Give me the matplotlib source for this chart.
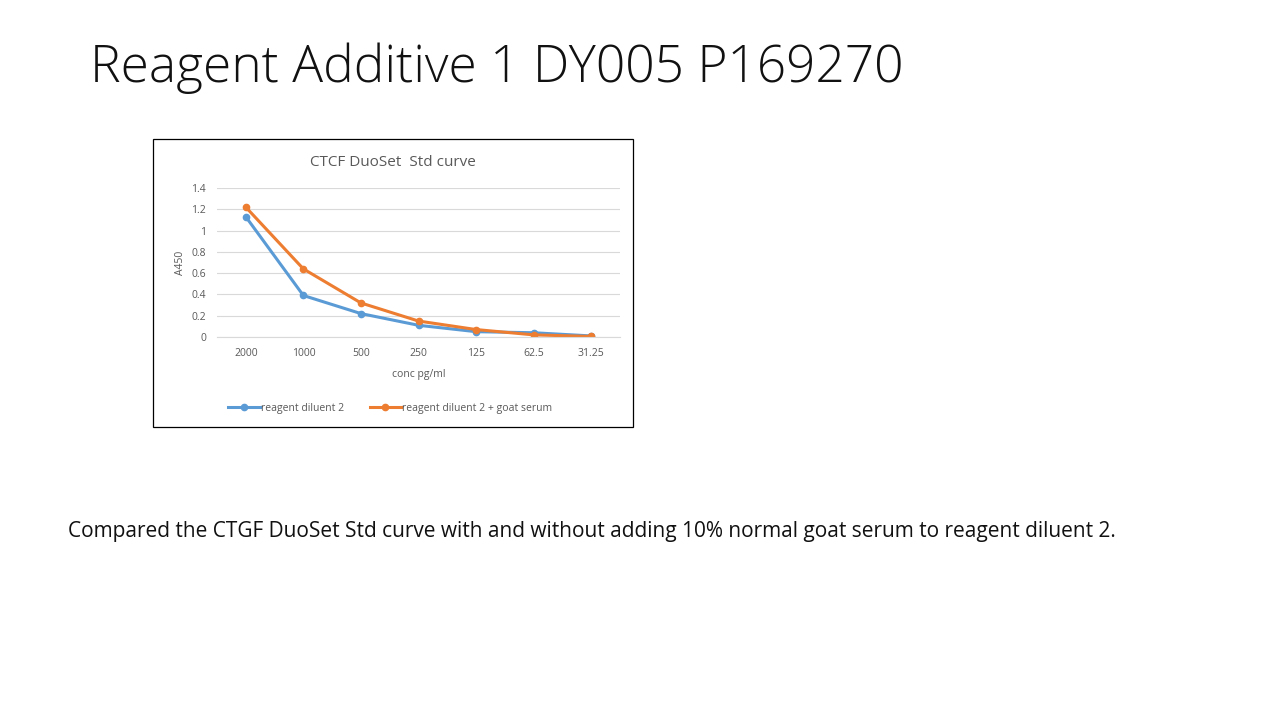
import matplotlib
matplotlib.use("Agg")
import matplotlib.pyplot as plt
from matplotlib.patches import Rectangle

plt.rcParams["font.family"] = ["Open Sans", "DejaVu Sans"]

conc_labels = ["2000", "1000", "500", "250", "125", "62.5", "31.25"]
diluent2 = [1.13, 0.39, 0.22, 0.11, 0.05, 0.04, 0.01]
diluent2_goat = [1.22, 0.64, 0.32, 0.15, 0.07, 0.02, 0.005]

W, H = 1280, 720
fig = plt.figure(figsize=(12.8, 7.2), dpi=100)
fig.patch.set_facecolor("white")

fig.text(90 / W, 1 - 68 / H, "Reagent Additive 1 DY005 P169270", fontsize=37,
         fontweight="light", va="center", ha="left", color="#111111")
fig.text(68 / W, 1 - 531 / H,
         "Compared the CTGF DuoSet Std curve with and without adding 10% normal goat serum to reagent diluent 2.",
         fontsize=15, va="center", ha="left", color="#111111")

# chart frame
fig.add_artist(Rectangle((153 / W, 1 - 427 / H), 480 / W, 288 / H,
                         transform=fig.transFigure, fill=False, lw=0.9, ec="black"))
fig.text(393 / W, 1 - 162 / H, "CTCF DuoSet  Std curve", fontsize=11,
         ha="center", va="center", color="#595959")

ax = fig.add_axes([217 / W, 1 - 337 / H, 403 / W, 149 / H])
x = range(len(conc_labels))
blue, orange = "#5b9bd5", "#ed7d31"
ax.plot(x, diluent2, color=blue, lw=2.2, marker="o", ms=4.5, label="reagent diluent 2")
ax.plot(x, diluent2_goat, color=orange, lw=2.2, marker="o", ms=4.5,
        label="reagent diluent 2 + goat serum")
ax.set_xlim(-0.5, len(conc_labels) - 0.5)
ax.set_ylim(0, 1.4)
ax.set_yticks([0, 0.2, 0.4, 0.6, 0.8, 1.0, 1.2, 1.4])
ax.set_yticklabels(["0", "0.2", "0.4", "0.6", "0.8", "1", "1.2", "1.4"])
ax.set_xticks(list(x))
ax.set_xticklabels(conc_labels)
ax.tick_params(length=0, labelsize=7.5, colors="#595959", pad=8)
ax.grid(axis="y", color="#d9d9d9", lw=0.8)
ax.set_axisbelow(True)
for s in ["top", "right", "left"]:
    ax.spines[s].set_visible(False)
ax.spines["bottom"].set_color("#d9d9d9")
ax.set_ylabel("A450", fontsize=7.5, color="#595959", labelpad=4)
ax.set_xlabel("conc pg/ml", fontsize=7.5, color="#595959", labelpad=7)
ax.legend(loc="upper center", bbox_to_anchor=(0.43, -0.38), ncol=2, frameon=False,
          fontsize=7.5, labelcolor="#595959", handlelength=3, handletextpad=0.1,
          columnspacing=2.5)

fig.savefig("out.png", dpi=100)
